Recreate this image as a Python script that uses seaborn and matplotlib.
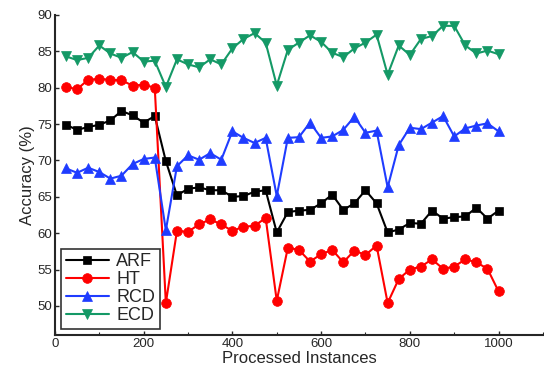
import matplotlib
matplotlib.use("Agg")
import matplotlib.pyplot as plt
import seaborn as sns
import numpy as np
from matplotlib.ticker import MultipleLocator

instances = list(range(25, 1001, 25))

arf = [74.9, 74.2, 74.6, 74.9, 75.5, 76.8, 76.2, 75.2, 76.1, 69.9,
       65.2, 66.1, 66.3, 65.9, 65.9, 65.0, 65.1, 65.7, 65.9, 60.1,
       62.9, 63.1, 63.2, 64.1, 65.3, 63.2, 64.1, 65.9, 64.1, 60.1,
       60.5, 61.4, 61.3, 63.1, 62.0, 62.2, 62.3, 63.5, 62.0, 63.1]
ht = [80.1, 79.8, 81.1, 81.2, 81.1, 81.0, 80.3, 80.4, 80.0, 50.4,
      60.3, 60.2, 61.2, 61.9, 61.2, 60.3, 60.9, 61.0, 62.1, 50.7,
      58.0, 57.7, 56.1, 57.1, 57.7, 56.0, 57.6, 57.0, 58.3, 50.4,
      53.7, 55.0, 55.4, 56.4, 55.1, 55.4, 56.4, 56.0, 55.1, 52.0]
rcd = [68.9, 68.3, 69.0, 68.4, 67.5, 67.9, 69.5, 70.2, 70.4, 60.4,
       69.2, 70.7, 70.1, 71.0, 70.1, 74.0, 73.1, 72.4, 73.1, 65.1,
       73.1, 73.2, 75.2, 73.1, 73.3, 74.2, 76.0, 73.8, 74.1, 66.3,
       72.1, 74.5, 74.3, 75.2, 76.1, 73.3, 74.4, 74.8, 75.1, 74.0]
ecd = [84.3, 83.8, 84.1, 85.8, 84.7, 84.1, 84.9, 83.6, 83.7, 80.1,
       83.9, 83.2, 82.8, 83.9, 83.2, 85.4, 86.7, 87.5, 86.2, 80.3,
       85.2, 86.2, 87.2, 86.3, 84.8, 84.2, 85.4, 86.2, 87.3, 81.8,
       85.8, 84.5, 86.7, 87.1, 88.5, 88.5, 85.8, 84.7, 85.1, 84.6]

series_names = ["ARF", "HT", "RCD", "ECD"]
series_values = [arf, ht, rcd, ecd]
colors = ["#000000", "#ff0000", "#1f3cff", "#149966"]
markers = ["s", "o", "^", "v"]
msizes = [6, 7, 7.5, 7.5]

sns.set_style("ticks")
plt.rcParams["font.family"] = ["Liberation Sans", "DejaVu Sans"]

fig = plt.figure(figsize=(5.44, 3.70), dpi=100)
ax = fig.add_axes([0.101, 0.0946, 0.897, 0.865])

for name, vals, c, m, ms in zip(series_names, series_values, colors, markers, msizes):
    sns.lineplot(x=instances, y=vals, ax=ax, color=c, marker=m, markersize=ms,
                 markeredgecolor=c, markeredgewidth=0.5, linewidth=1.5, label=name)

ax.set_xlim(0, 1100)
ax.set_ylim(46, 90)
ax.set_xticks([0, 200, 400, 600, 800, 1000])
ax.set_yticks([50, 55, 60, 65, 70, 75, 80, 85, 90])
ax.xaxis.set_minor_locator(MultipleLocator(100))
ax.tick_params(axis="both", which="major", direction="in", length=3, width=1,
               labelsize=9.5, pad=2)
ax.tick_params(axis="x", which="minor", direction="in", length=2, width=0.8)
for s in ["top", "right"]:
    ax.spines[s].set_visible(False)
for s in ["left", "bottom"]:
    ax.spines[s].set_linewidth(1.5)

ax.set_xlabel("Processed Instances", fontsize=12, labelpad=1)
ax.set_ylabel("Accuracy (%)", fontsize=12, labelpad=2)

leg = ax.legend(loc="lower left", bbox_to_anchor=(0.013, 0.02), fontsize=13,
                frameon=True, fancybox=False, edgecolor="black",
                handlelength=2.4, handletextpad=0.4, borderpad=0.25,
                labelspacing=0.05, borderaxespad=0)
leg.get_frame().set_linewidth(1.2)

fig.savefig("out.png", dpi=100)
